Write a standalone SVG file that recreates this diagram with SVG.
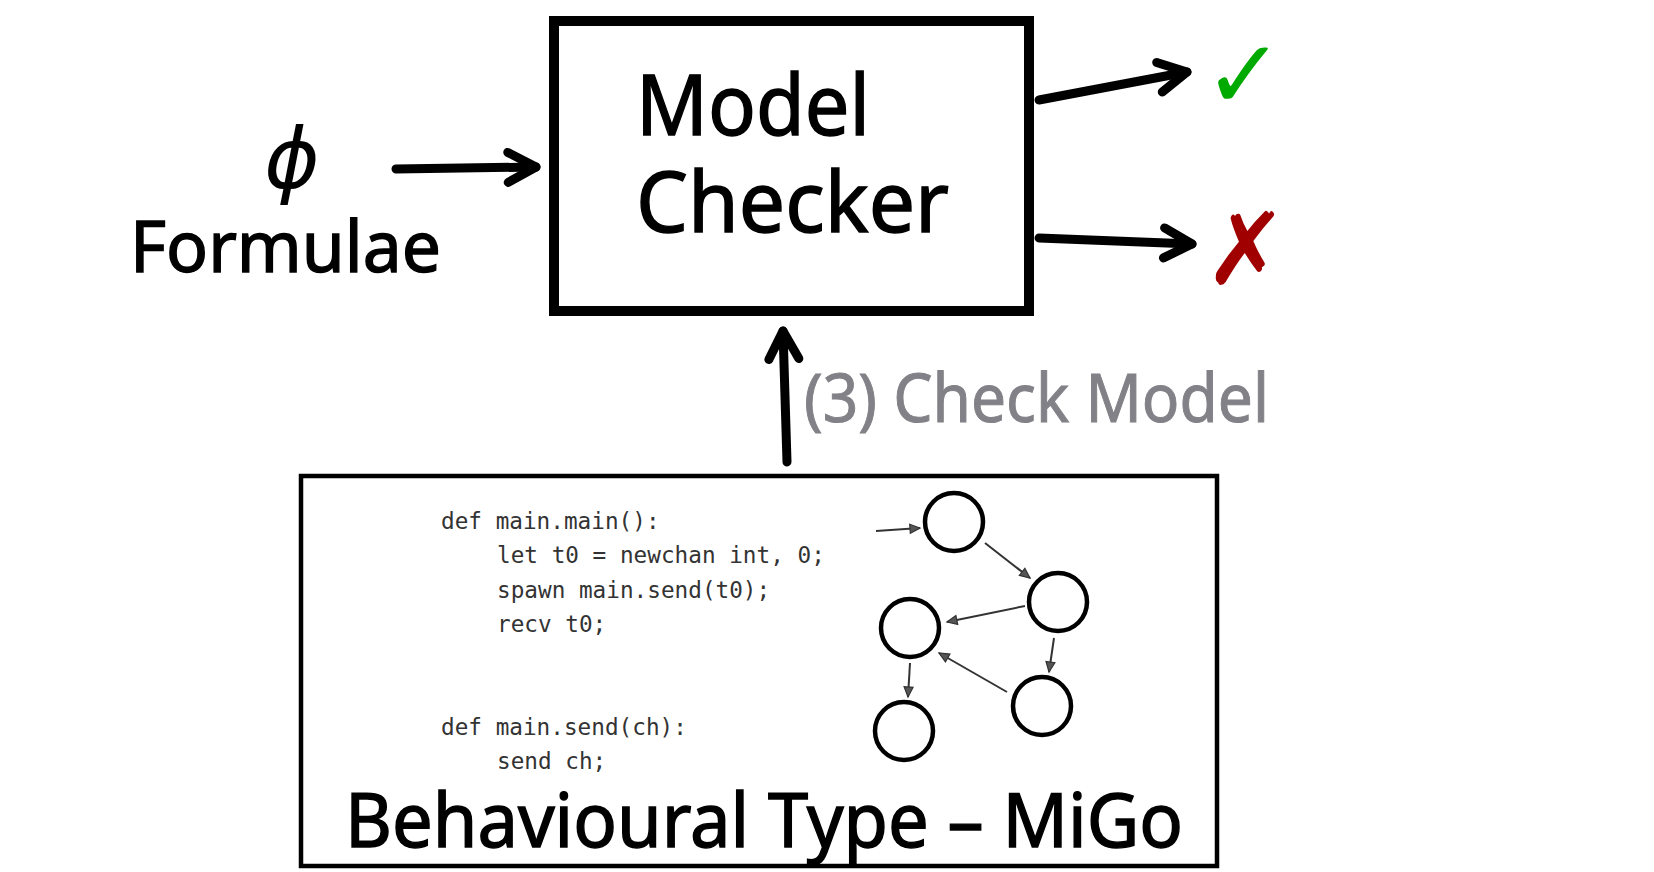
<svg xmlns="http://www.w3.org/2000/svg" width="1654" height="872" viewBox="0 0 1654 872">
<style>
.box{fill:none;stroke:#000;}
.big{font-family:"Noto Sans","Open Sans",sans-serif;fill:#000;stroke:#000;stroke-width:1.4;}
.thick{fill:none;stroke:#000;stroke-width:9;stroke-linecap:round;stroke-linejoin:round;}
.code{font-family:"DejaVu Sans Mono","Liberation Mono",monospace;font-size:22.7px;fill:#333;}
.st{fill:none;stroke:#000;stroke-width:4.5;}
.thin{fill:none;stroke:#333;stroke-width:2;}
</style>
<defs>
<marker id="chev" markerUnits="userSpaceOnUse" orient="auto" markerWidth="60" markerHeight="60" refX="0" refY="0" viewBox="-40 -30 60 60" overflow="visible">
<path d="M-28,-15 L0,0 L-28,15" fill="none" stroke="#000" stroke-width="9" stroke-linecap="round" stroke-linejoin="round"/>
</marker>
<marker id="small" markerUnits="userSpaceOnUse" orient="auto" markerWidth="20" markerHeight="20" refX="0" refY="0" viewBox="-12 -8 20 16" overflow="visible">
<path d="M-10,-4.5 L0,0 L-10,4.5 Z" fill="#555" stroke="#333" stroke-width="1.2"/>
</marker>
</defs>

<g id="model-checker">
<rect class="box" x="554" y="21" width="475" height="290" stroke-width="10"/>
<text class="big" x="636" y="135" font-size="84" textLength="234" lengthAdjust="spacingAndGlyphs">Model</text>
<text class="big" x="636" y="232" font-size="84" textLength="313" lengthAdjust="spacingAndGlyphs">Checker</text>
</g>

<g id="formulae">
<text x="292" y="188" font-family="DejaVu Sans,sans-serif" font-style="italic" font-size="84" text-anchor="middle">ϕ</text>
<text class="big" x="130" y="272" font-size="71" textLength="311" lengthAdjust="spacingAndGlyphs">Formulae</text>
</g>

<g id="result-ok">
<text x="1244" y="108" font-family="DejaVu Sans,sans-serif" font-size="96" fill="#00aa00" text-anchor="middle">✓</text>
</g>
<g id="result-fail">
<text x="1246" y="284" font-family="DejaVu Sans,sans-serif" font-size="100" fill="#a00000" text-anchor="middle">✗</text>
</g>

<g id="check-label">
<text class="big" x="804" y="422" font-size="67" textLength="465" lengthAdjust="spacingAndGlyphs" style="fill:#818187;stroke:#818187;stroke-width:1">(3) Check Model</text>
</g>

<g id="behavioural-type">
<rect class="box" x="301" y="476" width="916" height="390" stroke-width="4.5"/>
<text class="code" x="441" y="529">def main.main():</text>
<text class="code" x="497" y="563">let t0 = newchan int, 0;</text>
<text class="code" x="497" y="598">spawn main.send(t0);</text>
<text class="code" x="497" y="632">recv t0;</text>
<text class="code" x="441" y="735">def main.send(ch):</text>
<text class="code" x="497" y="769">send ch;</text>
<g id="graph">
<circle class="st" cx="954" cy="522" r="29"/>
<circle class="st" cx="1058" cy="602" r="29"/>
<circle class="st" cx="910" cy="628" r="29"/>
<circle class="st" cx="1042" cy="706" r="29"/>
<circle class="st" cx="904" cy="731" r="29"/>
<g id="graph-edges">
<line class="thin" x1="876" y1="531" x2="920" y2="528" marker-end="url(#small)"/>
<line class="thin" x1="985" y1="543" x2="1030" y2="578" marker-end="url(#small)"/>
<line class="thin" x1="1025" y1="606" x2="947" y2="622" marker-end="url(#small)"/>
<line class="thin" x1="1054" y1="638" x2="1049" y2="672" marker-end="url(#small)"/>
<line class="thin" x1="1007" y1="692" x2="939" y2="653" marker-end="url(#small)"/>
<line class="thin" x1="910" y1="663" x2="908" y2="697" marker-end="url(#small)"/>
</g>
</g>
<text class="big" x="345" y="847" font-size="74" textLength="838" lengthAdjust="spacingAndGlyphs">Behavioural Type – MiGo</text>
</g>

<g id="connectors">
<line class="thick" x1="396" y1="169" x2="536" y2="167" marker-end="url(#chev)"/>
<line class="thick" x1="1039" y1="100" x2="1187" y2="72" marker-end="url(#chev)"/>
<line class="thick" x1="1039" y1="238" x2="1192" y2="244" marker-end="url(#chev)"/>
<line class="thick" x1="787" y1="462" x2="783" y2="331" marker-end="url(#chev)"/>
</g>
</svg>
